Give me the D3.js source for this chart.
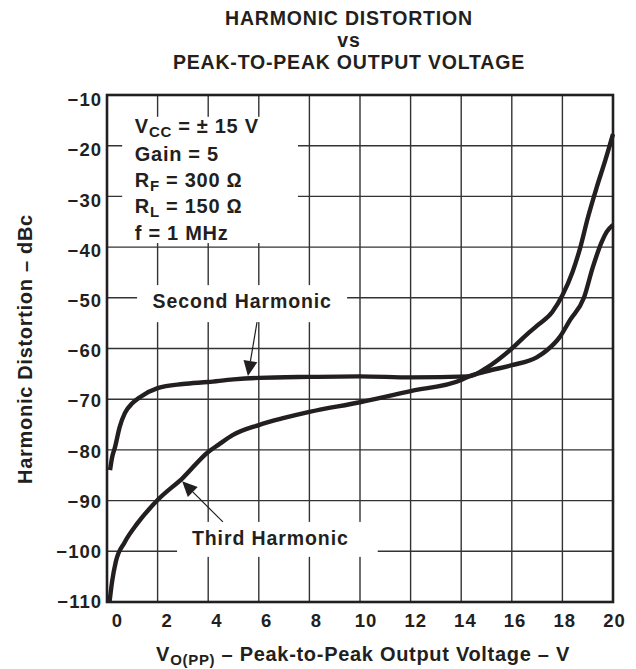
<!DOCTYPE html>
<meta charset="utf-8">
<style>
body { margin: 0; background: #fff; }
svg text { font-family: "Liberation Sans", Arial, Helvetica, sans-serif; font-weight: bold; fill: #231f20; }
</style>
<svg width="636" height="669"></svg>
<script src="https://cdn.jsdelivr.net/npm/d3@7/dist/d3.min.js"></script>
<script>
// curves (V peak-to-peak, dBc)
var secondX = [0.12, 0.2, 0.32, 0.5, 0.71, 1, 1.3, 2, 3, 4, 5, 6, 8, 10, 12, 14.3, 15, 16, 16.6, 17, 17.6, 18, 18.4, 18.7, 19, 19.35, 19.7, 20];
var secondY = [-84, -81.5, -79.4, -75.5, -72.7, -70.8, -69.6, -67.8, -67, -66.6, -66.1, -65.8, -65.6, -65.5, -65.7, -65.5, -63.8, -60, -57.2, -55.5, -52.8, -49.5, -44.9, -40.2, -34.3, -28.3, -22.8, -17.7];
var thirdX = [0.1, 0.2, 0.35, 0.7, 1.2, 2, 3, 4, 4.4, 5, 6, 7, 8, 10, 12, 14, 14.3, 15, 16, 17, 17.4, 17.9, 18.3, 18.85, 19.2, 19.55, 19.75, 20];
var thirdY = [-110, -106, -102, -98.2, -94.5, -89.9, -85.5, -80.4, -79, -77, -75.1, -73.7, -72.5, -70.6, -68.4, -66.2, -65.5, -64.5, -63.3, -61.7, -60.3, -57.7, -54.4, -50, -44, -39, -37, -35.6];

var xTicks = [0, 2, 4, 6, 8, 10, 12, 14, 16, 18, 20];
var yTicks = [-10, -20, -30, -40, -50, -60, -70, -80, -90, -100, -110];
var titleLines = ["HARMONIC DISTORTION", "vs", "PEAK-TO-PEAK OUTPUT VOLTAGE"];

var svg = d3.select("svg");

var x = d3.scaleLinear().domain([0, 20]).range([107, 613]),
    y = d3.scaleLinear().domain([-110, -10]).range([602, 95]);
// tick labels sit a little off the grid lines in the original
var xl = d3.scaleLinear().domain([0, 20]).range([117, 614]),
    yl = d3.scaleLinear().domain([-110, -10]).range([601, 99]);

// grid
svg.append("g").selectAll("line").data(xTicks.slice(1, -1)).join("line")
    .attr("x1", d => x(d)).attr("x2", d => x(d))
    .attr("y1", y(-10)).attr("y2", y(-110))
    .attr("stroke", "#333").attr("stroke-width", 1.4);
svg.append("g").selectAll("line").data(yTicks.slice(1, -1)).join("line")
    .attr("y1", d => y(d)).attr("y2", d => y(d))
    .attr("x1", x(0)).attr("x2", x(20))
    .attr("stroke", "#333").attr("stroke-width", 1.4);

// white patches behind the annotations
function patch(x0, x1, y0, y1) {
  svg.append("rect")
      .attr("x", x(x0)).attr("y", y(y0))
      .attr("width", x(x1) - x(x0)).attr("height", y(y1) - y(y0))
      .attr("fill", "#fff");
}
patch(0.6, 7.55, -14.3, -39.2);
patch(1.19, 9.49, -47.5, -54.8);
patch(2.77, 10.7, -94.2, -101.1);

// frame
svg.append("rect")
    .attr("x", x(0)).attr("y", y(-10))
    .attr("width", x(20) - x(0)).attr("height", y(-110) - y(-10))
    .attr("fill", "none").attr("stroke", "#231f20").attr("stroke-width", 2.6);

// curves
var line = d3.line().x(d => x(d[0])).y(d => y(d[1])).curve(d3.curveMonotoneX);
[[secondX, secondY], [thirdX, thirdY]].forEach(function(s) {
  svg.append("path")
      .datum(d3.zip(s[0], s[1]))
      .attr("d", line)
      .attr("fill", "none").attr("stroke", "#231f20").attr("stroke-width", 4.4)
      .attr("stroke-linejoin", "round");
});

// axes labels
var ax = svg.append("g").attr("transform", "translate(0,627)")
    .call(d3.axisBottom(xl).tickValues(xTicks).tickSize(0).tickPadding(0));
ax.select(".domain").remove();
ax.selectAll("text").attr("dy", 0).attr("y", 0)
    .attr("font-size", 18.5).attr("letter-spacing", 1).style("font-family", null);

var ay = svg.append("g").attr("transform", "translate(102,0)")
    .call(d3.axisLeft(yl).tickValues(yTicks).tickSize(0).tickPadding(0));
ay.select(".domain").remove();
ay.selectAll("text").attr("dy", "0.36em")
    .attr("font-size", 18.5).attr("letter-spacing", 1).style("font-family", null);

// titles
svg.append("g").selectAll("text").data(titleLines).join("text")
    .attr("x", 349).attr("y", (d, i) => 25 + i * 22)
    .attr("text-anchor", "middle").attr("font-size", 19.5).attr("letter-spacing", 0.8)
    .text(d => d);

var xt = svg.append("text").attr("x", 363).attr("y", 661)
    .attr("text-anchor", "middle").attr("font-size", 20).attr("letter-spacing", 0.7);
xt.append("tspan").text("V");
xt.append("tspan").attr("font-size", 15).attr("dy", 4).text("O(PP)");
xt.append("tspan").attr("dy", -4).text(" \u2013 Peak-to-Peak Output Voltage \u2013 V");

svg.append("text")
    .attr("transform", "translate(32,349) rotate(-90)")
    .attr("text-anchor", "middle").attr("font-size", 20).attr("letter-spacing", 0.7)
    .text("Harmonic Distortion \u2013 dBc");

// condition block
var cond = [
  ["V", "CC", " = \u00b1 15 V"],
  ["Gain = 5", "", ""],
  ["R", "F", " = 300 \u2126"],
  ["R", "L", " = 150 \u2126"],
  ["f = 1 MHz", "", ""]
];
var condY = [-17.5, -23, -28.2, -33.3, -38.6];
svg.append("g").selectAll("text").data(cond).join("text")
    .attr("x", x(1.1)).attr("y", (d, i) => y(condY[i]))
    .attr("font-size", 20).attr("letter-spacing", 0.7)
    .each(function(d) {
      var t = d3.select(this);
      t.append("tspan").text(d[0]);
      if (d[1]) {
        t.append("tspan").attr("font-size", 15).attr("dy", 4).text(d[1]);
        t.append("tspan").attr("dy", -4).text(d[2]);
      }
    });

// curve labels with arrows
svg.append("text").attr("x", x(1.8)).attr("y", y(-52))
    .attr("font-size", 19.5).attr("letter-spacing", 0.9).text("Second Harmonic");
svg.append("text").attr("x", x(3.36)).attr("y", y(-98.8))
    .attr("font-size", 19.5).attr("letter-spacing", 0.9).text("Third Harmonic");

function arrow(x0, y0, x1, y1) {
  var px0 = x(x0), py0 = y(y0), px1 = x(x1), py1 = y(y1);
  var a = Math.atan2(py1 - py0, px1 - px0), len = 15, half = 7;
  var bx = px1 - len * Math.cos(a), by = py1 - len * Math.sin(a);
  svg.append("line").attr("x1", px0).attr("y1", py0).attr("x2", bx).attr("y2", by)
      .attr("stroke", "#231f20").attr("stroke-width", 1.2);
  svg.append("path")
      .attr("d", "M" + px1 + "," + py1 +
                 "L" + (bx + half * Math.sin(a)) + "," + (by - half * Math.cos(a)) +
                 "L" + (bx - half * Math.sin(a)) + "," + (by + half * Math.cos(a)) + "Z")
      .attr("fill", "#231f20");
}
arrow(5.93, -54.8, 5.57, -65.4);
arrow(4.58, -94.2, 2.97, -86.2);
</script>
